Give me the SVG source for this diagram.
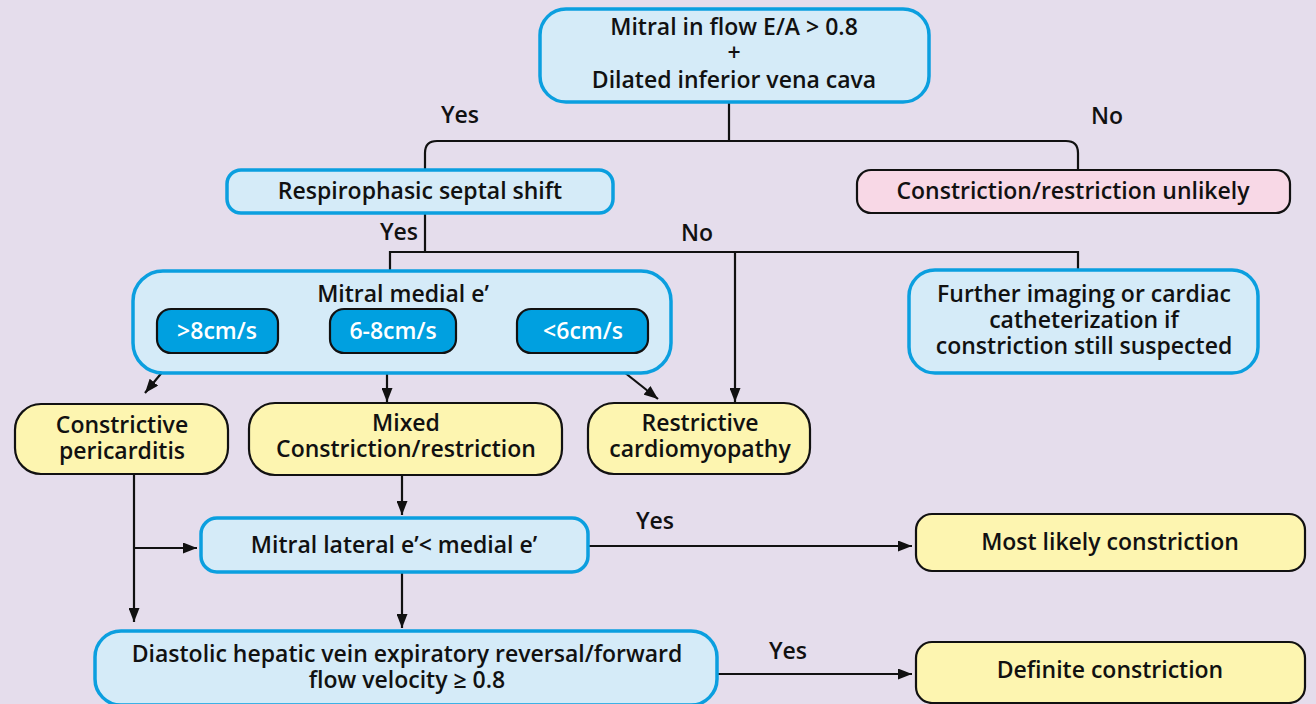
<svg xmlns="http://www.w3.org/2000/svg" width="1316" height="704" viewBox="0 0 1316 704">
<defs>
<marker id="ah" viewBox="0 0 14 11" refX="14" refY="5.5" markerWidth="14" markerHeight="11" markerUnits="userSpaceOnUse" orient="auto">
<path d="M0,0 L14,5.5 L0,11 z" fill="#111"/>
</marker>
<style>
text{font-family:"Open Sans","Liberation Sans",sans-serif;font-weight:600;font-size:23px;fill:#111;text-anchor:middle}
.blue{fill:#d5ebf8;stroke:#0b9fdf;stroke-width:3.5}
.yel{fill:#fdf5b0;stroke:#111;stroke-width:2.2}
.pink{fill:#f8d8e6;stroke:#111;stroke-width:2.2}
.sub{fill:#00a0e0;stroke:#111;stroke-width:2.2}
.wt{fill:#fff}
.lbl{text-anchor:start}
.c{fill:none;stroke:#111;stroke-width:2.2}
</style>
</defs>
<rect width="1316" height="704" fill="#e5ddec"/>
<g id="connectors">
<path class="c" d="M729,102 V141 M425,170 V153 Q425,141 437,141 H1066 Q1078,141 1078,153 V170"/>
<path class="c" d="M425,213 V252 M390,272 V252 H1078 V270"/>
<path class="c" d="M735,252 V402" marker-end="url(#ah)"/>
<path class="c" d="M178,353 L145,393" marker-end="url(#ah)"/>
<path class="c" d="M387,353 V402" marker-end="url(#ah)"/>
<path class="c" d="M600,353 L658,399" marker-end="url(#ah)"/>
<path class="c" d="M402,475 V515" marker-end="url(#ah)"/>
<path class="c" d="M134,474 V622" marker-end="url(#ah)"/>
<path class="c" d="M134,548 H197" marker-end="url(#ah)"/>
<path class="c" d="M402,572 V628" marker-end="url(#ah)"/>
<path class="c" d="M588,546 H912" marker-end="url(#ah)"/>
<path class="c" d="M717,674 H912" marker-end="url(#ah)"/>
<text class="lbl" x="441" y="123">Yes</text>
<text class="lbl" x="1091" y="124">No</text>
<text class="lbl" x="380" y="240">Yes</text>
<text class="lbl" x="681" y="241">No</text>
<text class="lbl" x="636" y="529">Yes</text>
<text class="lbl" x="769" y="659">Yes</text>
</g>
<g id="n-mitral-inflow">
<rect class="blue" x="540" y="9" width="389" height="93" rx="26"/>
<text x="734" y="35">Mitral in flow E/A &gt; 0.8</text>
<text x="734" y="61">+</text>
<text x="734" y="88">Dilated inferior vena cava</text>
</g>
<g id="n-septal">
<rect class="blue" x="227" y="170" width="386" height="43" rx="14"/>
<text x="420" y="199">Respirophasic septal shift</text>
</g>
<g id="n-unlikely">
<rect class="pink" x="857" y="170" width="433" height="43" rx="14"/>
<text x="1073" y="199">Constriction/restriction unlikely</text>
</g>
<g id="n-medial">
<rect class="blue" x="133" y="271" width="538" height="102" rx="30"/>
<text x="403" y="302">Mitral medial e’</text>
<g id="n-gt8">
<rect class="sub" x="157" y="309" width="121" height="44" rx="14"/>
<text class="wt" x="217" y="339">&gt;8cm/s</text>
</g>
<g id="n-6to8">
<rect class="sub" x="330" y="309" width="126" height="44" rx="14"/>
<text class="wt" x="393" y="339">6-8cm/s</text>
</g>
<g id="n-lt6">
<rect class="sub" x="517" y="309" width="131" height="44" rx="14"/>
<text class="wt" x="583" y="339">&lt;6cm/s</text>
</g>
</g>
<g id="n-further">
<rect class="blue" x="909" y="270" width="349" height="103" rx="26"/>
<text x="1084" y="302">Further imaging or cardiac</text>
<text x="1084" y="328">catheterization if</text>
<text x="1084" y="354">constriction still suspected</text>
</g>
<g id="n-pericarditis">
<rect class="yel" x="15" y="404" width="213" height="70" rx="26"/>
<text x="122" y="433">Constrictive</text>
<text x="122" y="459">pericarditis</text>
</g>
<g id="n-mixed">
<rect class="yel" x="249" y="403" width="313" height="72" rx="26"/>
<text x="406" y="431">Mixed</text>
<text x="406" y="457">Constriction/restriction</text>
</g>
<g id="n-restrictive">
<rect class="yel" x="588" y="403" width="222" height="71" rx="26"/>
<text x="700" y="431">Restrictive</text>
<text x="700" y="457">cardiomyopathy</text>
</g>
<g id="n-lateral">
<rect class="blue" x="201" y="518" width="387" height="54" rx="16"/>
<text x="394" y="553">Mitral lateral e’&lt; medial e’</text>
</g>
<g id="n-likely">
<rect class="yel" x="916" y="514" width="389" height="57" rx="16"/>
<text x="1110" y="550">Most likely constriction</text>
</g>
<g id="n-hepatic">
<rect class="blue" x="95" y="631" width="622" height="74" rx="26"/>
<text x="407" y="662">Diastolic hepatic vein expiratory reversal/forward</text>
<text x="407" y="688">flow velocity ≥ 0.8</text>
</g>
<g id="n-definite">
<rect class="yel" x="916" y="642" width="389" height="61" rx="16"/>
<text x="1110" y="678">Definite constriction</text>
</g>
</svg>
